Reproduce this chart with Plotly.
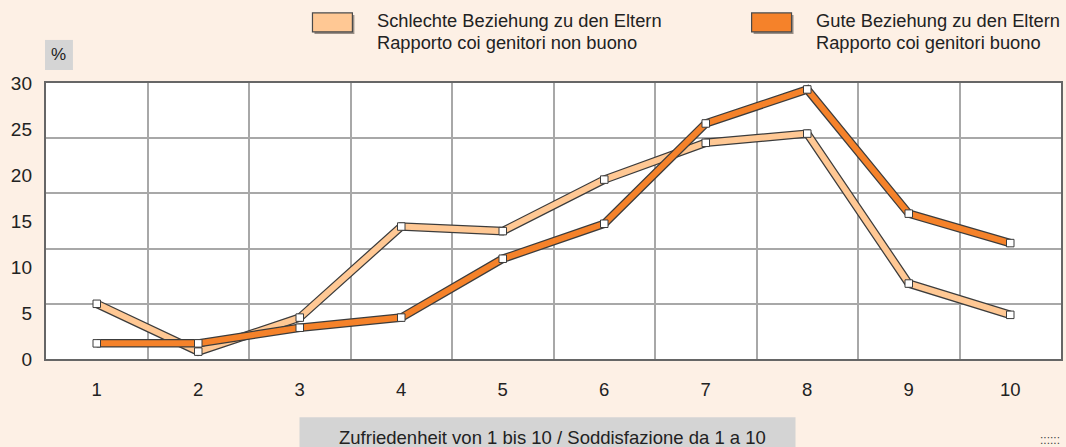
import plotly.graph_objects as go

# Zufriedenheit (1-10) nach Beziehung zu den Eltern, Anteile in %
satisfaction = [1, 2, 3, 4, 5, 6, 7, 8, 9, 10]
bad_relationship = [6.0, 0.8, 4.5, 14.4, 13.9, 19.5, 23.5, 24.5, 8.2, 4.8]
good_relationship = [1.7, 1.7, 3.4, 4.5, 10.9, 14.7, 25.6, 29.3, 15.8, 12.6]
y_tick_labels = [0, 5, 10, 15, 20, 25, 30]

legend_bad = ["Schlechte Beziehung zu den Eltern", "Rapporto coi genitori non buono"]
legend_good = ["Gute Beziehung zu den Eltern", "Rapporto coi genitori buono"]
x_title = "Zufriedenheit von 1 bis 10 / Soddisfazione da 1 a 10"

BG = "#FDF0E5"
LIGHT = "#FFC894"
ORANGE = "#F5822A"
OUTLINE = "#3C3C3C"
FONT = "Liberation Sans, Arial, sans-serif"

fig = go.Figure()


def add_band(values, color):
    # dark outline underneath, coloured band on top, white square markers
    fig.add_trace(go.Scatter(x=satisfaction, y=values, mode="lines",
                             line=dict(color=OUTLINE, width=8.5),
                             hoverinfo="skip", showlegend=False))
    fig.add_trace(go.Scatter(x=satisfaction, y=values, mode="lines+markers",
                             line=dict(color=color, width=6),
                             marker=dict(symbol="square", size=7.5, color="white",
                                         line=dict(color=OUTLINE, width=1)),
                             showlegend=False))


add_band(bad_relationship, LIGHT)
add_band(good_relationship, ORANGE)

# invisible carrier for the label axes
fig.add_trace(go.Scatter(x=[satisfaction[0]], y=[0], xaxis="x2", yaxis="y2",
                         mode="markers", marker=dict(opacity=0),
                         hoverinfo="skip", showlegend=False))

x_range = [satisfaction[0] - 0.5, satisfaction[-1] + 0.5]
y_range = [0, 30]
x_bounds = [c + 0.5 for c in satisfaction[:-1]]
y_grid = list(range(0, 31, 6))

fig.update_layout(
    width=1066, height=447,
    margin=dict(l=46, r=3, t=83, b=88),
    paper_bgcolor=BG, plot_bgcolor="white",
    font=dict(family=FONT, color="#222222"),
    xaxis=dict(range=x_range, tickvals=x_bounds, showticklabels=False,
               showgrid=True, gridcolor="#A8A8A8", gridwidth=1.5,
               showline=True, linecolor="#666666", linewidth=1.5, mirror=True,
               ticks="", zeroline=False, fixedrange=True),
    yaxis=dict(range=y_range, tickvals=y_grid, showticklabels=False,
               showgrid=True, gridcolor="#A8A8A8", gridwidth=1.5,
               showline=True, linecolor="#666666", linewidth=1.5, mirror=True,
               ticks="", zeroline=False, fixedrange=True),
    xaxis2=dict(range=x_range, overlaying="x", side="bottom",
                tickvals=satisfaction, ticktext=[str(c) for c in satisfaction],
                showgrid=False, zeroline=False, showline=False, ticks="",
                ticklabelstandoff=17, tickfont=dict(size=18.5, family=FONT),
                fixedrange=True),
    yaxis2=dict(range=y_range, overlaying="y", side="left",
                tickvals=y_tick_labels, ticktext=[str(v) for v in y_tick_labels],
                showgrid=False, zeroline=False, showline=False, ticks="",
                ticklabelstandoff=13, tickfont=dict(size=19, family=FONT),
                fixedrange=True),
)

shapes = []
annotations = []

# legend swatches with a soft shadow
for x0, color in [(313, LIGHT), (753, ORANGE)]:
    shapes.append(dict(type="rect", xref="paper", yref="paper",
                       x0=(x0 + 2 - 46) / 1017, x1=(x0 + 42 - 46) / 1017,
                       y0=(358.7 - 34) / 275.7, y1=(358.7 - 15) / 275.7,
                       fillcolor="#9A8F86", line=dict(width=0), layer="above"))
    shapes.append(dict(type="rect", xref="paper", yref="paper",
                       x0=(x0 - 46) / 1017, x1=(x0 + 40 - 46) / 1017,
                       y0=(358.7 - 32) / 275.7, y1=(358.7 - 13) / 275.7,
                       fillcolor=color, line=dict(color="#4A4A4A", width=1.2),
                       layer="above"))

for x_text, lines in [(376, legend_bad), (816, legend_good)]:
    for i, txt in enumerate(lines):
        annotations.append(dict(text=txt, xref="paper", yref="paper",
                                x=(x_text - 46) / 1017,
                                y=(358.7 - (21 + 22 * i)) / 275.7,
                                xanchor="left", yanchor="middle", showarrow=False,
                                font=dict(size=18.3, family=FONT, color="#222222")))

# "%" box
shapes.append(dict(type="rect", xref="paper", yref="paper",
                   x0=(45 - 46) / 1017, x1=(73 - 46) / 1017,
                   y0=(358.7 - 70) / 275.7, y1=(358.7 - 40) / 275.7,
                   fillcolor="#D5D5D5", line=dict(width=0)))
annotations.append(dict(text="%", xref="paper", yref="paper",
                        x=(59 - 46) / 1017, y=(358.7 - 55) / 275.7,
                        xanchor="center", yanchor="middle", showarrow=False,
                        font=dict(size=17, family=FONT, color="#222222")))

# axis title box
shapes.append(dict(type="rect", xref="paper", yref="paper",
                   x0=(300 - 46) / 1017, x1=(797 - 46) / 1017,
                   y0=(358.7 - 449) / 275.7, y1=(358.7 - 417) / 275.7,
                   fillcolor="#D4D4D4", line=dict(width=0)))
annotations.append(dict(text=x_title, xref="paper", yref="paper",
                        x=(553 - 46) / 1017, y=(358.7 - 437) / 275.7,
                        xanchor="center", yanchor="middle", showarrow=False,
                        font=dict(size=18.5, family=FONT, color="#222222")))

# small dotted mark in the corner
annotations.append(dict(text="::::::", xref="paper", yref="paper",
                        x=(1040 - 46) / 1017, y=(358.7 - 440) / 275.7,
                        xanchor="left", yanchor="middle", showarrow=False,
                        font=dict(size=12, family=FONT, color="#444444")))

fig.update_layout(shapes=shapes, annotations=annotations)

fig.write_html("out.html")
